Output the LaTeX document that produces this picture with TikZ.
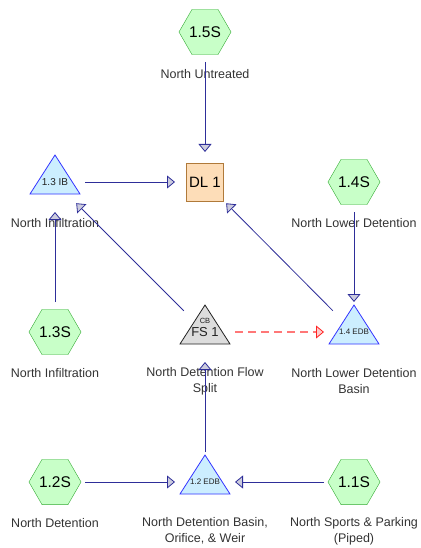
\documentclass[tikz,border=0pt]{standalone}
\usepackage{fontspec}
\setmainfont{Liberation Sans}
\usepackage{tikz}
\usetikzlibrary{arrows.meta}
\usetikzlibrary{shapes.geometric}
\usetikzlibrary{backgrounds}
\definecolor{hexfill}{HTML}{C8FFC8}
\definecolor{hexdraw}{HTML}{33AA33}
\definecolor{pondfill}{HTML}{CCEEFF}
\definecolor{ponddraw}{HTML}{3333FF}
\definecolor{splitfill}{HTML}{DDDDDD}
\definecolor{splitdraw}{HTML}{222222}
\definecolor{linkfill}{HTML}{FDDDB8}
\definecolor{linkdraw}{HTML}{B07A3A}
\definecolor{flowline}{HTML}{2E2E99}
\definecolor{tipgray}{HTML}{CCCCDD}
\definecolor{spillline}{HTML}{FF7777}
\definecolor{spilltip}{HTML}{FF2222}
\definecolor{spillfill}{HTML}{FFCCCC}
\definecolor{labeltext}{HTML}{333333}
\newcommand{\fsz}[1]{\fontsize{#1}{#1}\selectfont}

\begin{document}
\begin{tikzpicture}[
    x=1pt, y=-1pt,
    subcat/.style={regular polygon, regular polygon sides=6, minimum size=50pt,
      inner sep=0pt, draw=hexdraw, fill=hexfill, font=\fsz{15.5}},
    pond/.style={inner sep=0pt, text=splitdraw},
    link/.style={rectangle, minimum width=37pt, minimum height=38pt, inner sep=0pt,
      draw=linkdraw, fill=linkfill, font=\fsz{15}},
    lbl/.style={align=center, text=labeltext, font=\fontsize{12.5}{16}\selectfont},
    flow/.style={draw=flowline, line width=0.8pt, shorten >=30pt, shorten <=30pt,
      -{Triangle[length=8pt, width=13pt, fill=tipgray]}},
    spill/.style={draw=spillline, line width=1.5pt, dash pattern=on 8pt off 5pt,
      shorten >=30pt, shorten <=30pt,
      -{Triangle[length=8pt, width=13pt, fill=spillfill, color=spilltip, line width=0.8pt]}}
    ]
\useasboundingbox (0,0) rectangle (420,548);

% subcatchments
\node[subcat] (s15) at (205,32) {1.5S};
\node[subcat] (s14) at (354,182) {1.4S};
\node[subcat] (s13) at (55,332) {1.3S};
\node[subcat] (s12) at (55,482) {1.2S};
\node[subcat] (s11) at (354,482) {1.1S};

% ponds and split
\node[pond, font=\fsz{10}] (ib13) at (55,182) {1.3 IB};
\node[pond, font=\fsz{8}] (edb14) at (354,332) {1.4 EDB};
\node[pond, font=\fsz{8}] (edb12) at (205,482) {1.2 EDB};
\node[pond, font=\fsz{13}] (fs1) at (205,332) {FS 1};
\node[pond, font=\fsz{7.5}] (fscb) at (205,321) {CB};

% link
\node[link] (dl1) at (205,182) {DL 1};

\begin{scope}[on background layer]
\foreach \n/\f/\d in {ib13/pondfill/ponddraw, edb14/pondfill/ponddraw,
    edb12/pondfill/ponddraw, fs1/splitfill/splitdraw}
  \draw[fill=\f, draw=\d, line width=0.8pt, line join=miter]
    ([xshift=-25pt, yshift=-12pt]\n.center) -- ([xshift=25pt, yshift=-12pt]\n.center)
    -- ([yshift=27pt]\n.center) -- cycle;
\end{scope}

% labels
\node[lbl] (s15lbl) at ([yshift=-42pt]s15.center) {North Untreated};
\node[lbl] (ib13lbl) at ([yshift=-41pt]ib13.center) {North Infiltration};
\node[lbl] (s14lbl) at ([yshift=-41pt]s14.center) {North Lower Detention};
\node[lbl] (s13lbl) at ([yshift=-41pt]s13.center) {North Infiltration};
\node[lbl] (fs1lbl) at ([yshift=-49pt]fs1.center) {North Detention Flow\\Split};
\node[lbl] (edb14lbl) at ([yshift=-49pt]edb14.center) {North Lower Detention\\Basin};
\node[lbl] (s12lbl) at ([yshift=-41pt]s12.center) {North Detention};
\node[lbl] (edb12lbl) at ([yshift=-49pt]edb12.center) {North Detention Basin,\\Orifice, \& Weir};
\node[lbl] (s11lbl) at ([yshift=-49pt]s11.center) {North Sports \& Parking\\(Piped)};

% connectors
\draw[flow] (s15.center) -- (dl1.center);
\draw[flow] (ib13.center) -- (dl1.center);
\draw[flow] (edb14.center) -- (dl1.center);
\draw[flow] (s14.center) -- (edb14.center);
\draw[flow] (s13.center) -- (ib13.center);
\draw[flow] (fs1.center) -- (ib13.center);
\draw[spill] (fs1.center) -- (edb14.center);
\draw[flow] (edb12.center) -- (fs1.center);
\draw[flow] (s12.center) -- (edb12.center);
\draw[flow] (s11.center) -- (edb12.center);
\end{tikzpicture}
\end{document}
